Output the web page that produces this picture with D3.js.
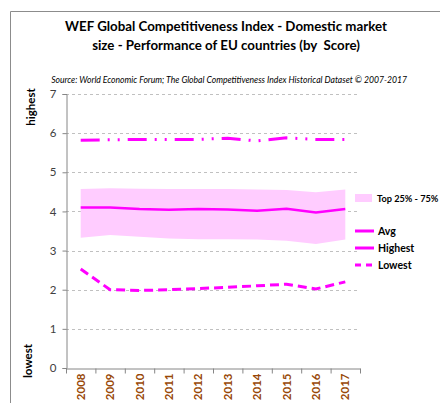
<!DOCTYPE html>
<html lang="en">
<head>
    <meta charset="UTF-8">
    <title>WEF GCI - Domestic market size</title>
    <script src="https://cdnjs.cloudflare.com/ajax/libs/d3/7.8.5/d3.min.js"></script>
    <style>
        body {
            margin: 0;
            background-color: white;
            font-family: Lato, "Open Sans", sans-serif;
        }
    </style>
</head>
<body>
    <svg id="chart" width="440" height="403"></svg>

    <script>
        // Data
        const years = ["2008", "2009", "2010", "2011", "2012", "2013", "2014", "2015", "2016", "2017"];
        const avg = [4.10, 4.10, 4.06, 4.04, 4.06, 4.05, 4.02, 4.07, 3.97, 4.06];
        const q75 = [4.57, 4.59, 4.58, 4.57, 4.57, 4.57, 4.56, 4.55, 4.49, 4.56];
        const q25 = [3.33, 3.40, 3.35, 3.31, 3.29, 3.29, 3.28, 3.25, 3.17, 3.28];
        const highest = [5.82, 5.83, 5.84, 5.84, 5.84, 5.87, 5.80, 5.88, 5.84, 5.84];
        const lowest = [2.53, 2.00, 1.98, 2.00, 2.03, 2.06, 2.10, 2.14, 2.02, 2.20];
        const yTicks = [0, 1, 2, 3, 4, 5, 6, 7];

        const magenta = "#ff00ff";
        const bandFill = "#ffccff";

        const svg = d3.select("#chart");

        // outer chart frame
        svg.append("path")
            .attr("d", "M10.5,403 V11.5 H440")
            .attr("fill", "none")
            .attr("stroke", "#8c8c8c")
            .attr("stroke-width", 1);

        // title + source
        svg.append("text")
            .attr("x", 226).attr("y", 31)
            .attr("text-anchor", "middle")
            .attr("font-size", 13.3).attr("font-weight", "bold")
            .text("WEF Global Competitiveness Index - Domestic market");
        svg.append("text")
            .attr("x", 226).attr("y", 50)
            .attr("text-anchor", "middle")
            .attr("font-size", 13.3).attr("font-weight", "bold")
            .attr("xml:space", "preserve")
            .text("size - Performance of EU countries (by  Score)");
        svg.append("text")
            .attr("x", 229).attr("y", 83)
            .attr("text-anchor", "middle")
            .attr("font-size", 8.6).attr("font-style", "italic")
            .text("Source: World Economic Forum; The Global Competitiveness Index Historical Dataset \u00a9 2007-2017");

        const x = d3.scaleBand()
            .domain(years)
            .range([66, 360]);

        const y = d3.scaleLinear()
            .domain([0, 7])
            .range([368, 94]);

        const cx = d => x(d) + x.bandwidth() / 2;

        // gridlines
        svg.append("g")
            .selectAll("line")
            .data(yTicks.filter(d => d > 0))
            .enter().append("line")
            .attr("x1", 66).attr("x2", 360)
            .attr("y1", d => Math.round(y(d)) + 0.5)
            .attr("y2", d => Math.round(y(d)) + 0.5)
            .attr("stroke", "#c0c0c0")
            .attr("stroke-dasharray", "3,3");

        // y axis
        const yAxis = svg.append("g")
            .attr("transform", "translate(66.5,0)")
            .call(d3.axisLeft(y).tickValues(yTicks).tickSize(4).tickPadding(6).tickFormat(d3.format("d")));
        yAxis.select(".domain").attr("stroke", "#868686");
        yAxis.selectAll(".tick line").attr("stroke", "#868686");
        yAxis.selectAll("text")
            .attr("font-family", "Lato, sans-serif")
            .attr("font-size", 11.5)
            .attr("fill", "#404040");

        // x axis
        const xAxis = svg.append("g")
            .attr("transform", "translate(0,368.5)")
            .call(d3.axisBottom(x).tickSize(0).tickPadding(0));
        xAxis.select(".domain").attr("stroke", "#868686");
        xAxis.selectAll(".tick line").remove();
        xAxis.selectAll(".boundary")
            .data(d3.range(years.length + 1))
            .enter().append("line")
            .attr("x1", i => 66 + i * x.step() + 0.5)
            .attr("x2", i => 66 + i * x.step() + 0.5)
            .attr("y1", 0).attr("y2", 5)
            .attr("stroke", "#868686");
        xAxis.selectAll(".tick text")
            .attr("font-family", "Lato, sans-serif")
            .attr("font-size", 11.5)
            .attr("font-weight", "bold")
            .attr("fill", "#984807")
            .attr("text-anchor", "end")
            .attr("dy", "0.35em")
            .attr("transform", "translate(0,5) rotate(-90)");

        // interquartile band
        const area = d3.area()
            .x((d, i) => cx(years[i]))
            .y0((d, i) => y(q25[i]))
            .y1(d => y(d));
        svg.append("path")
            .datum(q75)
            .attr("d", area)
            .attr("fill", bandFill);

        const line = d3.line().x((d, i) => cx(years[i])).y(d => y(d));

        svg.append("path")
            .datum(avg)
            .attr("d", line)
            .attr("fill", "none")
            .attr("stroke", magenta)
            .attr("stroke-width", 2.5);

        svg.append("path")
            .datum(highest)
            .attr("d", line)
            .attr("fill", "none")
            .attr("stroke", magenta)
            .attr("stroke-width", 3)
            .attr("stroke-dasharray", "19,8,2,8,2,8");

        svg.append("path")
            .datum(lowest)
            .attr("d", line)
            .attr("fill", "none")
            .attr("stroke", magenta)
            .attr("stroke-width", 3)
            .attr("stroke-dasharray", "9,5");

        // side labels
        svg.append("text")
            .attr("transform", "translate(35,107) rotate(-90)")
            .attr("text-anchor", "middle")
            .attr("font-size", 11.5).attr("font-weight", "bold")
            .text("highest");
        svg.append("text")
            .attr("transform", "translate(32,361) rotate(-90)")
            .attr("text-anchor", "middle")
            .attr("font-size", 11.5).attr("font-weight", "bold")
            .text("lowest");

        // legend
        const legend = svg.append("g").attr("font-size", 10.5).attr("font-weight", "bold");
        legend.append("rect")
            .attr("x", 355).attr("y", 194).attr("width", 17).attr("height", 8)
            .attr("fill", bandFill);
        legend.append("text").attr("x", 377).attr("y", 202)
            .attr("font-size", 9.2)
            .text("Top 25% - 75%");

        const legendLines = [
            {label: "Avg", y: 231, dash: null},
            {label: "Highest", y: 248, dash: null},
            {label: "Lowest", y: 265, dash: "6,5"}
        ];
        legendLines.forEach(d => {
            legend.append("line")
                .attr("x1", 355).attr("x2", 374)
                .attr("y1", d.y).attr("y2", d.y)
                .attr("stroke", magenta)
                .attr("stroke-width", 3)
                .attr("stroke-dasharray", d.dash);
            legend.append("text").attr("x", 378).attr("y", d.y + 4).text(d.label);
        });
    </script>
</body>
</html>
